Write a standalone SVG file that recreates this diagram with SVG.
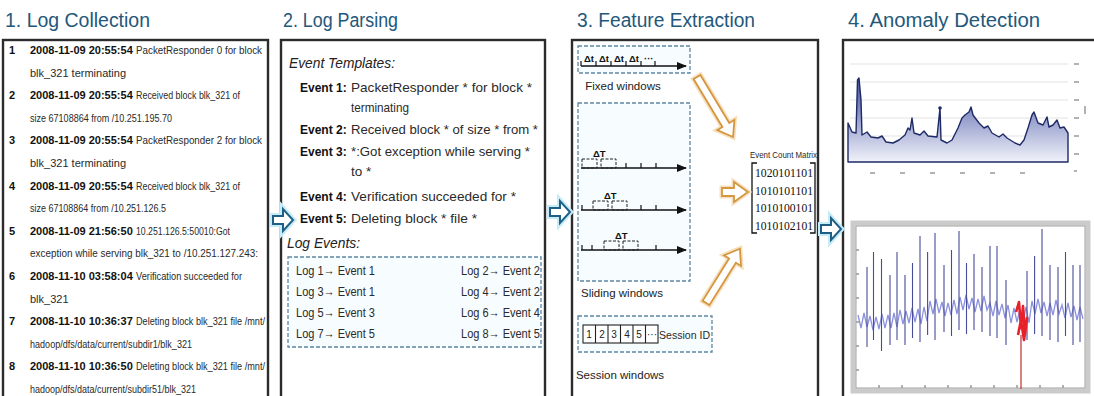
<svg xmlns="http://www.w3.org/2000/svg" width="1094" height="396" viewBox="0 0 1094 396">
<defs>
<style>
.title{font-family:"Liberation Sans","DejaVu Sans",sans-serif;font-size:19.5px;fill:#23587b}
.panel{fill:#fff;stroke:#2c2c2c;stroke-width:2.4}
.t{font-family:"Liberation Sans","DejaVu Sans",sans-serif;font-size:11px;fill:#2a2a2a}
.b{font-weight:bold;fill:#111}
.it{font-family:"Liberation Sans","DejaVu Sans",sans-serif;font-size:14.5px;font-style:italic;fill:#222}
.dash{fill:#f7fcfe;stroke:#5f86a3;stroke-width:1.3;stroke-dasharray:4 2}
.lbl{font-family:"Liberation Sans","DejaVu Sans",sans-serif;font-size:11.5px;fill:#222;text-anchor:middle}
.tl{stroke:#111;stroke-width:1.5;fill:none}
.win{fill:none;stroke:#222;stroke-width:1;stroke-dasharray:3 1.5}
.sm{font-family:"Liberation Sans","DejaVu Sans",sans-serif;font-size:9.5px;font-weight:bold;fill:#111}
.mx{font-family:"Liberation Serif","DejaVu Serif",serif;font-size:12.5px;fill:#111}
.barr{fill:#fff;stroke:#1f5f86;stroke-width:2}
.bglow{fill:none;stroke:#c5ecf7;stroke-width:6}
.oarr{fill:#fff;stroke:#d4963f;stroke-width:1.8}
.oglow{fill:none;stroke:#f7e0bf;stroke-width:5}
.grid{stroke:#e3e3e3;stroke-width:1}
.spk{stroke:#474c96;stroke-width:1.1}
.tick{stroke:#999;stroke-width:1.5}
</style>
<marker id="ah" viewBox="0 0 10 10" refX="9" refY="5" markerWidth="7" markerHeight="7" orient="auto"><path d="M0,1 L10,5 L0,9 Z" fill="#111"/></marker>
<linearGradient id="area" x1="0" y1="75" x2="0" y2="162" gradientUnits="userSpaceOnUse"><stop offset="0" stop-color="#3a4890"/><stop offset="0.45" stop-color="#8d96c8"/><stop offset="1" stop-color="#f1f2fa"/></linearGradient>
<path id="arrowB" d="M0,-4 H10 V-11 L20,0 L10,11 V4 H0 Z"/>
</defs>
<rect width="1094" height="396" fill="#fff"/>

<g id="collection">
<text class="title" x="5" y="27" textLength="145" lengthAdjust="spacingAndGlyphs">1. Log Collection</text>
<rect class="panel" x="3" y="40" width="265" height="362"/>
<g class="t">
<text x="9" y="54" class="b">1</text>
<text x="30" y="54" class="b">2008-11-09 20:55:54</text>
<text x="136" y="54" textLength="126" lengthAdjust="spacingAndGlyphs">PacketResponder 0 for block</text>
<text x="30" y="76.6">blk_321 terminating</text>
<text x="9" y="99.2" class="b">2</text>
<text x="30" y="99.2" class="b">2008-11-09 20:55:54</text>
<text x="136" y="99.2" textLength="104" lengthAdjust="spacingAndGlyphs">Received block blk_321 of</text>
<text x="30" y="121.8" textLength="142" lengthAdjust="spacingAndGlyphs">size 67108864 from /10.251.195.70</text>
<text x="9" y="144.4" class="b">3</text>
<text x="30" y="144.4" class="b">2008-11-09 20:55:54</text>
<text x="136" y="144.4" textLength="126" lengthAdjust="spacingAndGlyphs">PacketResponder 2 for block</text>
<text x="30" y="167">blk_321 terminating</text>
<text x="9" y="189.6" class="b">4</text>
<text x="30" y="189.6" class="b">2008-11-09 20:55:54</text>
<text x="136" y="189.6" textLength="104" lengthAdjust="spacingAndGlyphs">Received block blk_321 of</text>
<text x="30" y="212.2" textLength="136" lengthAdjust="spacingAndGlyphs">size 67108864 from /10.251.126.5</text>
<text x="9" y="234.8" class="b">5</text>
<text x="30" y="234.8" class="b">2008-11-09 21:56:50</text>
<text x="136" y="234.8" textLength="94" lengthAdjust="spacingAndGlyphs">10.251.126.5:50010:Got</text>
<text x="30" y="257.4" textLength="228" lengthAdjust="spacingAndGlyphs">exception while serving blk_321 to /10.251.127.243:</text>
<text x="9" y="280" class="b">6</text>
<text x="30" y="280" class="b">2008-11-10 03:58:04</text>
<text x="136" y="280" textLength="106" lengthAdjust="spacingAndGlyphs">Verification succeeded for</text>
<text x="30" y="302.6">blk_321</text>
<text x="9" y="325.2" class="b">7</text>
<text x="30" y="325.2" class="b">2008-11-10 10:36:37</text>
<text x="136" y="325.2" textLength="129" lengthAdjust="spacingAndGlyphs">Deleting block blk_321 file /mnt/</text>
<text x="30" y="347.8" textLength="162" lengthAdjust="spacingAndGlyphs">hadoop/dfs/data/current/subdir1/blk_321</text>
<text x="9" y="370.4" class="b">8</text>
<text x="30" y="370.4" class="b">2008-11-10 10:36:50</text>
<text x="136" y="370.4" textLength="129" lengthAdjust="spacingAndGlyphs">Deleting block blk_321 file /mnt/</text>
<text x="30" y="393" textLength="166" lengthAdjust="spacingAndGlyphs">hadoop/dfs/data/current/subdir51/blk_321</text>
</g>
</g>

<g id="parsing">
<text class="title" x="283" y="27" textLength="115" lengthAdjust="spacingAndGlyphs">2. Log Parsing</text>
<rect class="panel" x="281" y="40" width="264" height="362"/>
<text class="it" x="289" y="68" textLength="106" lengthAdjust="spacingAndGlyphs">Event Templates:</text>
<g class="t" style="font-size:13.5px">
<text x="300" y="92" class="b" style="font-size:12px">Event 1:</text>
<text x="351" y="92" textLength="181" lengthAdjust="spacingAndGlyphs">PacketResponder * for block *</text>
<text x="351" y="112" textLength="58" lengthAdjust="spacingAndGlyphs">terminating</text>
<text x="300" y="134" class="b" style="font-size:12px">Event 2:</text>
<text x="351" y="134" textLength="187" lengthAdjust="spacingAndGlyphs">Received block * of size * from *</text>
<text x="300" y="156" class="b" style="font-size:12px">Event 3:</text>
<text x="351" y="156" textLength="179" lengthAdjust="spacingAndGlyphs">*:Got exception while serving *</text>
<text x="351" y="176">to *</text>
<text x="300" y="201" class="b" style="font-size:12px">Event 4:</text>
<text x="351" y="201" textLength="165" lengthAdjust="spacingAndGlyphs">Verification succeeded for *</text>
<text x="300" y="223" class="b" style="font-size:12px">Event 5:</text>
<text x="351" y="223" textLength="126" lengthAdjust="spacingAndGlyphs">Deleting block * file *</text>
</g>
<text class="it" x="287" y="248" textLength="73" lengthAdjust="spacingAndGlyphs">Log Events:</text>
<rect class="dash" x="288" y="257" width="253" height="90"/>
<g class="t" style="font-size:12.5px">
<text x="296" y="275" textLength="79" lengthAdjust="spacingAndGlyphs">Log 1→ Event 1</text>
<text x="461" y="275" textLength="79" lengthAdjust="spacingAndGlyphs">Log 2→ Event 2</text>
<text x="296" y="296" textLength="79" lengthAdjust="spacingAndGlyphs">Log 3→ Event 1</text>
<text x="461" y="296" textLength="79" lengthAdjust="spacingAndGlyphs">Log 4→ Event 2</text>
<text x="296" y="317" textLength="79" lengthAdjust="spacingAndGlyphs">Log 5→ Event 3</text>
<text x="461" y="317" textLength="79" lengthAdjust="spacingAndGlyphs">Log 6→ Event 4</text>
<text x="296" y="338" textLength="79" lengthAdjust="spacingAndGlyphs">Log 7→ Event 5</text>
<text x="461" y="338" textLength="79" lengthAdjust="spacingAndGlyphs">Log 8→ Event 5</text>
</g>
</g>

<g id="extraction">
<text class="title" x="577" y="27" textLength="178" lengthAdjust="spacingAndGlyphs">3. Feature Extraction</text>
<rect class="panel" x="572" y="40" width="246" height="362"/>
<g id="fixed-windows">
<rect class="dash" x="578" y="46" width="112" height="27"/>
<line class="tl" x1="581" y1="66" x2="686" y2="66" marker-end="url(#ah)"/>
<path d="M581,66 V61 M596,66 V61 M611,66 V61 M626,66 V61 M641,66 V61 M655,66 V61" stroke="#111" stroke-width="1.2"/>
<text class="sm" x="584" y="62">Δt</text><text class="sm" x="599" y="62">Δt</text><text class="sm" x="614" y="62">Δt</text><text class="sm" x="629" y="62">Δt</text><text class="sm" x="644" y="62">···</text>
<text class="lbl" x="623" y="90">Fixed windows</text>
</g>
<g id="sliding-windows">
<rect class="dash" x="578" y="103" width="112" height="178"/>
<line class="tl" x1="581" y1="168" x2="686" y2="168" marker-end="url(#ah)"/>
<rect class="win" x="582" y="159" width="15" height="9"/><rect class="win" x="601" y="159" width="15" height="9"/>
<path d="M626,168 V163 M641,168 V163 M656,168 V163" stroke="#111" stroke-width="1.2"/>
<text class="sm" x="593" y="157">ΔT</text>
<line class="tl" x1="581" y1="210" x2="686" y2="210" marker-end="url(#ah)"/>
<path d="M582,210 V205 M641,210 V205 M656,210 V205" stroke="#111" stroke-width="1.2"/>
<rect class="win" x="593" y="201" width="15" height="9"/><rect class="win" x="612" y="201" width="15" height="9"/>
<text class="sm" x="604" y="199">ΔT</text>
<line class="tl" x1="581" y1="250" x2="686" y2="250" marker-end="url(#ah)"/>
<path d="M582,250 V245 M592,250 V245 M656,250 V245" stroke="#111" stroke-width="1.2"/>
<rect class="win" x="604" y="241" width="15" height="9"/><rect class="win" x="623" y="241" width="15" height="9"/>
<text class="sm" x="615" y="239">ΔT</text>
<text class="lbl" x="622" y="297">Sliding windows</text>
</g>
<g id="session-windows">
<rect class="dash" x="578" y="316" width="134" height="36"/>
<rect x="583" y="325" width="75" height="18" fill="#fff" stroke="#222" stroke-width="1.1"/>
<path d="M595.5,325 V343 M608,325 V343 M620.5,325 V343 M633,325 V343 M645.5,325 V343" stroke="#222" stroke-width="1.1"/>
<g class="lbl" style="font-size:10px"><text x="589" y="338">1</text><text x="602" y="338">2</text><text x="614" y="338">3</text><text x="627" y="338">4</text><text x="639" y="338">5</text><text x="652" y="338">···</text></g>
<text class="t" x="659" y="339" style="font-size:10.5px" textLength="51" lengthAdjust="spacingAndGlyphs">Session ID</text>
<text class="lbl" x="620" y="379">Session windows</text>
</g>
<g id="event-count-matrix">
<text class="t" x="750" y="158" style="font-size:9.5px" textLength="67" lengthAdjust="spacingAndGlyphs">Event Count Matrix</text>
<path d="M757,163 H752 V233 H757 M810,163 H815 V233 H810" fill="none" stroke="#111" stroke-width="1.3"/>
<text class="mx" x="755" y="177" textLength="58" lengthAdjust="spacingAndGlyphs">1020101101</text>
<text class="mx" x="755" y="195" textLength="58" lengthAdjust="spacingAndGlyphs">1010101101</text>
<text class="mx" x="755" y="212" textLength="58" lengthAdjust="spacingAndGlyphs">1010100101</text>
<text class="mx" x="755" y="230" textLength="58" lengthAdjust="spacingAndGlyphs">1010102101</text>
</g>
</g>

<g id="detection">
<text class="title" x="848" y="27" textLength="192" lengthAdjust="spacingAndGlyphs">4. Anomaly Detection</text>
<rect class="panel" x="843" y="40" width="253" height="362"/>
<g id="top-chart">
<path class="grid" d="M850,64 H1068 M850,82 H1068 M850,100 H1068 M850,118 H1068 M850,136 H1068 M850,154 H1068"/>
<path d="M848,123 L852,132 L856,133 L857.5,80 L859,78 L861,100 L862,135 L867,132 L871,137 L878,138 L882,136 L886,142 L893,143 L899,140 L905,135 L908,128 L910,130 L912,118 L914,133 L920,135 L924,131 L928,136 L937,137 L940,108 L941,140 L947,143 L952,140 L958,128 L962,118 L965,115 L969,112 L971,107 L973,115 L979,123 L984,128 L988,126 L992,133 L999,137 L1003,134 L1007,138 L1015,143 L1020,145 L1024,140 L1028,128 L1032,115 L1034,112 L1038,123 L1043,125 L1047,117 L1049,127 L1053,125 L1057,120 L1060,128 L1064,127 L1068,133 L1068,162 L848,162 Z" fill="url(#area)" stroke="#1e2a66" stroke-width="1.4" stroke-linejoin="round"/>
<circle cx="940" cy="108" r="1.8" fill="#1e2a66"/>
<path class="tick" d="M1074,64 h5 M1074,82 h5 M1074,100 h5 M1074,118 h5 M1074,136 h5 M1074,154 h5 M1085,106 v8 M870,173 h5 M900,173 h5 M930,173 h5 M960,173 h5 M990,173 h5 M1020,173 h5 M1074,171 h3" stroke-width="1.2"/>
</g>
<g id="bottom-chart">
<rect x="853" y="223" width="235" height="168" fill="#fff" stroke="#cbcbcb" stroke-width="5"/>
<rect x="856" y="226" width="229" height="162" fill="none" stroke="#8a8a8a" stroke-width="0.8"/>
<polyline fill="none" stroke="#8d92e0" stroke-width="1.3" points="858,315 861,328 864,313 867,327 870,316 873,330 876,317 879,329 882,314 885,328 888,315 891,328 894,313 897,327 900,310 903,324 906,311 909,323 912,308 915,322 918,309 921,324 924,307 927,321 930,301 933,314 936,299 939,313 942,302 945,316 948,303 951,315 954,300 957,314 960,297 963,310 966,295 969,309 972,298 975,312 978,299 981,311 984,296 987,310 990,303 993,316 996,301 999,315 1002,304 1005,318 1008,305 1011,323 1014,308 1017,322 1020,309 1023,322 1026,307 1029,323 1032,301 1035,314 1038,299 1041,313 1044,302 1047,316 1050,303 1053,315 1056,300 1059,314 1062,305 1065,318 1068,303 1071,317 1074,306 1077,320 1080,307 1083,319"/>
<path class="spk" d="M867,267 V347 M873.5,252 V340 M881.5,259 V351 M890,275 V345 M897,252 V340 M905,275 V345 M912.5,263 V338 M920,236 V342 M927.6,252 V335 M935,233 V340 M944,265 V332 M951.5,250 V336 M959,231 V330 M966.5,263 V334 M974,254 V330 M982,267 V332 M990,246 V336 M997,246 V338 M1006,280 V345 M1027,271 V340 M1034.6,256 V334 M1042,229 V336 M1050,265 V340 M1058,267 V342 M1065.5,252 V336 M1073,265 V345 M1080,265 V342"/>
<line x1="1021" y1="335" x2="1021" y2="389" stroke="#c03030" stroke-width="1.2"/>
<polyline fill="none" stroke="#e8202a" stroke-width="2.6" stroke-linejoin="round" points="1016,312 1019,302 1021,328 1023,306 1025,334 1027,318 1024,340 1021,320 1018,335"/>
<path class="tick" stroke="#555" stroke-width="1" d="M879,388 v-3 M902,388 v-3 M925,388 v-3 M948,388 v-3 M971,388 v-3 M994,388 v-3 M1017,388 v-3 M1040,388 v-3 M1063,388 v-3 M856,250 h3 M856,274 h3 M856,298 h3 M856,322 h3 M856,346 h3 M856,370 h3"/>
</g>
</g>

<g id="connectors">
<g transform="translate(273,220)"><use href="#arrowB" class="bglow"/><use href="#arrowB" class="barr"/></g>
<g transform="translate(550,212)"><use href="#arrowB" class="bglow"/><use href="#arrowB" class="barr"/></g>
<g transform="translate(821,229)"><use href="#arrowB" class="bglow"/><use href="#arrowB" class="barr"/></g>
<g transform="translate(697,77) rotate(59)"><path class="oglow" d="M0,-4 H56 V-10 L70,0 L56,10 V4 H0 Z"/><path class="oarr" d="M0,-4 H56 V-10 L70,0 L56,10 V4 H0 Z"/></g>
<g transform="translate(722,192)"><path class="oglow" d="M0,-4 H12 V-10 L26,0 L12,10 V4 H0 Z"/><path class="oarr" d="M0,-4 H12 V-10 L26,0 L12,10 V4 H0 Z"/></g>
<g transform="translate(706,303) rotate(-58)"><path class="oglow" d="M0,-4 H50 V-10 L64,0 L50,10 V4 H0 Z"/><path class="oarr" d="M0,-4 H50 V-10 L64,0 L50,10 V4 H0 Z"/></g>
</g>
</svg>
